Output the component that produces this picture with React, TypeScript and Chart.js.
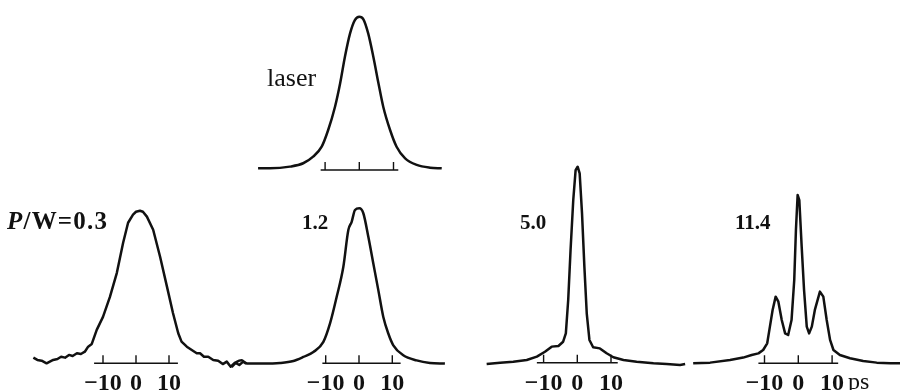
import React, { useEffect, useRef } from 'react';
import { Chart, registerables } from 'chart.js';

Chart.register(...registerables);

// ---- data (time in ps, normalised intensity) ----
const tickValues = [-10, 0, 10];

const laserTime = [-29.6, -26.1, -20.3, -16.4, -13.5, -11.0, -9.1, -7.1, -5.6, -4.2, -2.7, -1.3, 0, 1.2, 2.6, 4.1, 5.6, 7.0, 9.0, 10.9, 13.4, 16.8, 20.7, 24.1];
const laserLevel = [0.011, 0.011, 0.022, 0.044, 0.087, 0.152, 0.261, 0.413, 0.566, 0.739, 0.891, 0.978, 1.0, 0.983, 0.891, 0.739, 0.566, 0.413, 0.261, 0.152, 0.076, 0.033, 0.015, 0.011];

const p03Time = [-31.1, -29.9, -28.6, -27.1, -26.1, -25.1, -23.8, -22.7, -21.5, -20.3, -19.2, -17.9, -16.7, -15.5, -14.5, -13.4, -11.9, -10.0, -7.9, -5.8, -3.9, -2.4, -0.9, 0, 1.2, 2.1, 3.3, 5.2, 7.3, 9.4, 11.2, 12.8, 13.8, 15.4, 16.9, 18.4, 19.4, 20.6, 21.9, 23.4, 24.9, 26.3, 27.5, 28.7, 30.0, 31.3, 32.5, 33.5];
const p03Level = [0.037, 0.022, 0.017, 0.0, 0.011, 0.022, 0.028, 0.043, 0.037, 0.055, 0.048, 0.066, 0.061, 0.076, 0.109, 0.127, 0.219, 0.304, 0.435, 0.593, 0.79, 0.921, 0.974, 0.993, 1.0, 0.993, 0.961, 0.875, 0.698, 0.501, 0.33, 0.197, 0.142, 0.109, 0.087, 0.066, 0.066, 0.043, 0.043, 0.022, 0.017, -0.005, 0.011, -0.022, 0.004, -0.011, 0.011, 0.0];

const p12Time = [-38.2, -36.7, -35.2, -34.2, -32.7, -28.7, -23.7, -19.7, -16.7, -13.7, -10.7, -8.7, -6.7, -4.7, -3.2, -2.2, -1.2, 0.1, 1.3, 2.8, 4.3, 5.8, 7.3, 8.8, 10.3, 13.3, 17.3, 21.3, 25.8];
const p12Level = [-0.024, 0.009, 0.019, 0.002, -0.002, -0.002, 0.002, 0.015, 0.041, 0.073, 0.138, 0.257, 0.429, 0.623, 0.86, 0.913, 0.989, 1.0, 0.968, 0.816, 0.644, 0.472, 0.299, 0.192, 0.116, 0.052, 0.019, 0.002, -0.002];

const p50Time = [-26.9, -22.9, -19.0, -15.0, -12.0, -9.6, -7.6, -5.6, -4.2, -3.4, -2.7, -2.0, -1.2, -0.5, 0.1, 0.7, 1.4, 2.1, 2.8, 3.6, 4.7, 6.7, 8.7, 10.7, 13.7, 17.6, 22.6, 26.5, 30.5, 32.0];
const p50Level = [-0.007, 0.0, 0.005, 0.014, 0.031, 0.056, 0.082, 0.085, 0.107, 0.15, 0.32, 0.575, 0.83, 0.983, 1.0, 0.966, 0.762, 0.49, 0.252, 0.116, 0.079, 0.073, 0.048, 0.028, 0.014, 0.005, -0.003, -0.007, -0.012, -0.007];

const p114Time = [-31.1, -26.1, -20.2, -16.3, -13.8, -11.8, -10.4, -9.2, -8.4, -7.6, -6.7, -5.9, -4.9, -3.9, -3.0, -2.0, -1.2, -0.7, -0.2, 0.3, 1.0, 1.7, 2.5, 3.2, 4.0, 4.9, 6.4, 7.4, 8.4, 9.4, 10.4, 12.3, 15.3, 19.2, 23.2, 27.2, 30.2];
const p114Level = [0.0, 0.004, 0.02, 0.034, 0.049, 0.059, 0.079, 0.119, 0.218, 0.317, 0.396, 0.366, 0.257, 0.178, 0.168, 0.257, 0.495, 0.792, 1.0, 0.97, 0.693, 0.436, 0.218, 0.178, 0.218, 0.317, 0.426, 0.396, 0.257, 0.139, 0.079, 0.049, 0.03, 0.014, 0.004, 0.0, 0.0];

// ---- layout of each panel (pixels) ----
type Panel = {
  name: string;
  time: number[];
  level: number[];
  left: number;
  width: number;
  zeroPx: number;
  pxPerPs: number;
  baselinePx: number;
  peakPx: number;
  axisFrom: number;
  axisTo: number;
  labels: boolean;
  smooth: boolean;
};

const CANVAS_H = 400;
const AXIS_H = 34;

const panels: Panel[] = [
  { name: 'p03', time: p03Time, level: p03Level, left: 0, width: 262, zeroPx: 136, pxPerPs: 3.3, baselinePx: 363.3, peakPx: 210.7, axisFrom: -12.7, axisTo: 12.7, labels: true, smooth: false },
  { name: 'laser', time: laserTime, level: laserLevel, left: 240, width: 220, zeroPx: 359.3, pxPerPs: 3.42, baselinePx: 170, peakPx: 16.7, axisFrom: -11.3, axisTo: 11.4, labels: false, smooth: true },
  { name: 'p12', time: p12Time, level: p12Level, left: 220, width: 240, zeroPx: 359, pxPerPs: 3.33, baselinePx: 363.3, peakPx: 208.3, axisFrom: -11.0, axisTo: 12.5, labels: true, smooth: true },
  { name: 'p50', time: p50Time, level: p50Level, left: 470, width: 230, zeroPx: 577.3, pxPerPs: 3.37, baselinePx: 362.7, peakPx: 166.7, axisFrom: -12.0, axisTo: 12.0, labels: true, smooth: false },
  { name: 'p114', time: p114Time, level: p114Level, left: 680, width: 220, zeroPx: 798.3, pxPerPs: 3.38, baselinePx: 363.3, peakPx: 195, axisFrom: -11.8, axisTo: 11.8, labels: true, smooth: false },
];

const tickAxisPlugin = {
  id: 'tickAxis',
  afterDatasetsDraw(chart: any, _args: any, opts: any) {
    const { ctx, scales } = chart;
    const x = scales.x;
    const y = scales.y;
    const y0 = y.getPixelForValue(0);
    ctx.save();
    ctx.strokeStyle = '#111';
    ctx.lineWidth = 1.4;
    ctx.beginPath();
    ctx.moveTo(x.getPixelForValue(opts.from), y0);
    ctx.lineTo(x.getPixelForValue(opts.to), y0);
    for (const t of tickValues) {
      const px = x.getPixelForValue(t);
      ctx.moveTo(px, y0);
      ctx.lineTo(px, y0 - 8);
    }
    ctx.stroke();
    ctx.restore();
  },
};

function PanelChart({ p }: { p: Panel }) {
  const ref = useRef<HTMLCanvasElement | null>(null);
  useEffect(() => {
    if (!ref.current) return;
    const areaBottom = CANVAS_H - AXIS_H;
    const k = p.baselinePx - p.peakPx;
    const yMax = 1 + p.peakPx / k;
    const yMin = yMax - areaBottom / k;
    const xMin = (p.left - p.zeroPx) / p.pxPerPs;
    const xMax = (p.left + p.width - p.zeroPx) / p.pxPerPs;
    const chart = new Chart(ref.current, {
      type: 'line',
      data: {
        datasets: [
          {
            data: p.time.map((t, i) => ({ x: t, y: p.level[i] })),
            borderColor: '#111',
            borderWidth: 2.5,
            pointRadius: 0,
            fill: false,
            clip: false as any,
            cubicInterpolationMode: p.smooth ? 'monotone' : 'default',
            tension: p.smooth ? 0.4 : 0,
            borderJoinStyle: 'round',
          } as any,
        ],
      },
      options: {
        animation: false,
        responsive: false,
        maintainAspectRatio: false,
        layout: { padding: 0 },
        events: [],
        plugins: {
          legend: { display: false },
          tooltip: { enabled: false },
          tickAxis: { from: p.axisFrom, to: p.axisTo },
        } as any,
        scales: {
          x: {
            type: 'linear',
            min: xMin,
            max: xMax,
            display: true,
            grid: { display: false, drawTicks: false },
            border: { display: false },
            afterBuildTicks: (scale: any) => {
              scale.ticks = tickValues.map((v) => ({ value: v }));
            },
            afterFit: (scale: any) => {
              scale.height = AXIS_H;
            },
            ticks: {
              display: p.labels,
              autoSkip: false,
              maxRotation: 0,
              padding: 3,
              color: '#111',
              font: { family: "'Liberation Serif', 'Times New Roman', serif", size: 24, weight: 'bold' },
              callback: (v: any) => (Number(v) < 0 ? '\u2212' + Math.abs(Number(v)) : String(v)),
            },
          },
          y: {
            type: 'linear',
            min: yMin,
            max: yMax,
            display: false,
          },
        },
      },
      plugins: [tickAxisPlugin],
    });
    return () => chart.destroy();
  }, [p]);
  return (
    <canvas
      ref={ref}
      width={p.width}
      height={CANVAS_H}
      style={{ position: 'absolute', left: p.left, top: 0, width: p.width, height: CANVAS_H }}
    />
  );
}

const serif = "'Liberation Serif', 'Times New Roman', serif";

const labelBase: React.CSSProperties = {
  position: 'absolute',
  fontFamily: serif,
  lineHeight: 1,
  color: '#111',
  whiteSpace: 'nowrap',
};

export default function App() {
  return (
    <div
      style={{
        position: 'absolute',
        left: 0,
        top: 0,
        width: 900,
        height: 390,
        overflow: 'hidden',
        background: '#fff',
      }}
    >
      {panels.map((p) => (
        <PanelChart key={p.name} p={p} />
      ))}
      <div style={{ ...labelBase, left: 267, top: 65, fontSize: 26 }}>laser</div>
      <div style={{ ...labelBase, left: 7, top: 208, fontSize: 25, fontWeight: 'bold', letterSpacing: 1.2 }}>
        <span style={{ fontStyle: 'italic' }}>P</span>/W=0.3
      </div>
      <div style={{ ...labelBase, left: 302, top: 212, fontSize: 21, fontWeight: 'bold' }}>1.2</div>
      <div style={{ ...labelBase, left: 520, top: 212, fontSize: 21, fontWeight: 'bold' }}>5.0</div>
      <div style={{ ...labelBase, left: 735, top: 212, fontSize: 21, fontWeight: 'bold' }}>11.4</div>
      <div style={{ ...labelBase, left: 848, top: 369, fontSize: 24 }}>ps</div>
    </div>
  );
}
